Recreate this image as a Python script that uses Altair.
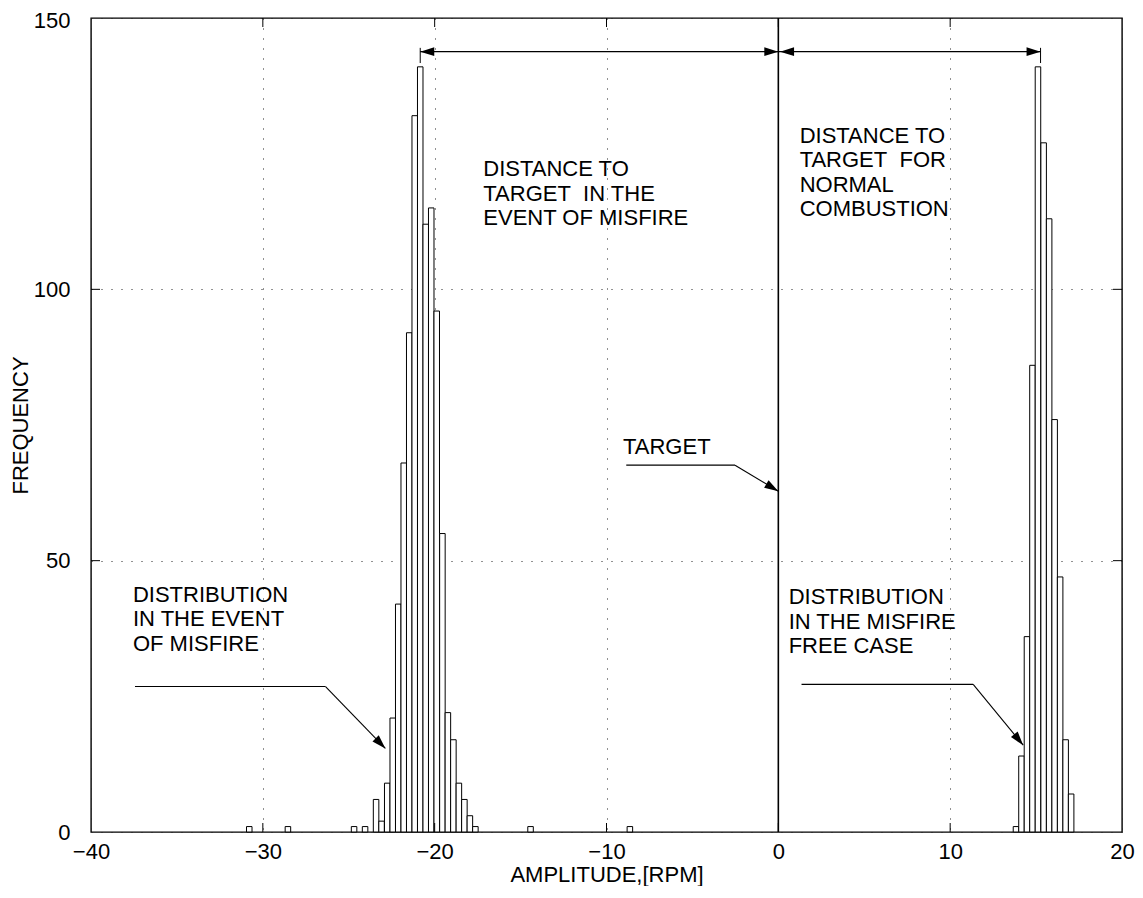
import math
import altair as alt
import pandas as pd

# ---------------- data ----------------
BIN_WIDTH = 0.321
bin_centers = [-30.79, -28.54, -24.69, -24.05, -23.41, -23.09, -22.76, -22.44,
               -22.12, -21.80, -21.48, -21.16, -20.84, -20.52, -20.20, -19.88,
               -19.55, -19.23, -18.91, -18.59, -18.27, -17.95, -17.63, -14.42,
               -8.64,
               13.83, 14.15, 14.47, 14.79, 15.11, 15.44, 15.76, 16.08, 16.40,
               16.72, 17.04]
counts = [1, 1, 1, 1, 6, 2, 9, 21,
          42, 68, 92, 132, 141, 112, 115, 96,
          55, 22, 17, 9, 6, 3, 1, 1,
          1,
          1, 14, 36, 86, 141, 127, 113, 76, 47,
          17, 7]

x_ticks = [-40, -30, -20, -10, 0, 10, 20]
y_ticks = [0, 50, 100, 150]
inner_x_ticks = [-30, -20, -10, 0, 10]
inner_y_ticks = [50, 100]

target_x = 0
arrow_y = 143.8
misfire_peak_x = -20.84
normal_peak_x = 15.26
peak_tick_lo, peak_tick_hi = 141.7, 144.5

label_text = ["DISTANCE TO", "TARGET\u00a0 IN THE", "EVENT OF MISFIRE",
              "DISTANCE TO", "TARGET\u00a0 FOR", "NORMAL", "COMBUSTION",
              "TARGET",
              "DISTRIBUTION", "IN THE EVENT", "OF MISFIRE",
              "DISTRIBUTION", "IN THE MISFIRE", "FREE CASE"]
label_x = [-17.17, -17.17, -17.17,
           1.24, 1.24, 1.24, 1.24,
           -9.04,
           -37.56, -37.56, -37.56,
           0.6, 0.6, 0.6]
label_y = [120.8, 116.2, 111.8,
           127.0, 122.5, 118.0, 113.5,
           69.6,
           42.4, 38.0, 33.4,
           42.0, 37.5, 32.9]

# leader lines: (x1, y1, x2, y2); last segment of each leader ends in an arrow
leader_x1 = [-8.85, -2.52, -37.44, -26.35, 1.35, 11.34]
leader_y1 = [67.6, 67.6, 26.8, 26.8, 27.2, 27.2]
leader_x2 = [-2.52, 0.0, -26.35, -22.87, 11.34, 14.25]
leader_y2 = [67.6, 62.8, 26.8, 15.4, 27.2, 16.0]

# ---------------- layout ----------------
W, H = 1031, 814
X_DOM = [-40, 20]
Y_DOM = [0, 150]
PX_X = W / (X_DOM[1] - X_DOM[0])
PX_Y = H / (Y_DOM[1] - Y_DOM[0])
FONT = "Liberation Sans"
FS = 22

xs = alt.Scale(domain=X_DOM, nice=False, zero=False)
ys = alt.Scale(domain=Y_DOM, nice=False, zero=False)

AX = alt.Axis(values=x_ticks, grid=True, gridDash=[1, 9],
              gridColor="#222", gridWidth=1, ticks=False, tickSize=0,
              domain=False, labelFont=FONT, labelFontSize=FS, labelFlush=False,
              labelColor="black", labelPadding=9, title="AMPLITUDE,[RPM]",
              titleFont=FONT, titleFontSize=FS, titleFontWeight="normal",
              titleColor="black", titleBaseline="middle", titleY=42)
AY = alt.Axis(values=y_ticks, grid=True, gridDash=[1, 9],
              gridColor="#222", gridWidth=1, ticks=False, tickSize=0,
              domain=False, labelFont=FONT, labelFontSize=FS, labelFlush=False,
              labelOffset={"condition": {"test": "datum.value === 150", "value": 2},
                           "value": 0},
              labelColor="black", labelPadding=21, title="FREQUENCY",
              titleFont=FONT, titleFontSize=FS, titleFontWeight="normal",
              titleColor="black", titleX=-71, titleY=H / 2,
              titleBaseline="middle", titleAlign="center")


def X(f):
    return alt.X(f, scale=xs, axis=AX, title="AMPLITUDE,[RPM]")


def Y(f):
    return alt.Y(f, scale=ys, axis=AY, title="FREQUENCY")


bars = pd.DataFrame({"c": bin_centers, "n": counts})
bars["x0"] = bars["c"] - BIN_WIDTH / 2
bars["x1"] = bars["c"] + BIN_WIDTH / 2
bars["z"] = 0

bar_layer = alt.Chart(bars).mark_bar(
    fill="white", stroke="black", strokeWidth=1
).encode(x=X("x0:Q"), x2="x1:Q", y=Y("n:Q"), y2="z:Q")

# inward tick marks on all four sides
xt = pd.DataFrame({"v": inner_x_ticks})
yt = pd.DataFrame({"v": inner_y_ticks})
tick_bottom = alt.Chart(xt).mark_rule(color="black", strokeWidth=1).encode(
    x=X("v:Q"), y=alt.value(H), y2=alt.value(H - 9))
tick_top = alt.Chart(xt).mark_rule(color="black", strokeWidth=1).encode(
    x=X("v:Q"), y=alt.value(0), y2=alt.value(9))
tick_left = alt.Chart(yt).mark_rule(color="black", strokeWidth=1).encode(
    y=Y("v:Q"), x=alt.value(0), x2=alt.value(9))
tick_right = alt.Chart(yt).mark_rule(color="black", strokeWidth=1).encode(
    y=Y("v:Q"), x=alt.value(W), x2=alt.value(W - 9))

# target line
tgt = pd.DataFrame({"x": [target_x], "y0": [Y_DOM[0]], "y1": [Y_DOM[1]]})
target_layer = alt.Chart(tgt).mark_rule(color="black", strokeWidth=1.6).encode(
    x=X("x:Q"), y=Y("y0:Q"), y2="y1:Q")

# peak ticks
pk = pd.DataFrame({"x": [misfire_peak_x, normal_peak_x],
                   "y0": [peak_tick_lo] * 2, "y1": [peak_tick_hi] * 2})
peak_layer = alt.Chart(pk).mark_rule(color="black", strokeWidth=1).encode(
    x=X("x:Q"), y=Y("y0:Q"), y2="y1:Q")

# segments (leaders + distance arrows)
seg = pd.DataFrame({
    "x1": leader_x1 + [misfire_peak_x, target_x],
    "y1": leader_y1 + [arrow_y, arrow_y],
    "x2": leader_x2 + [target_x, normal_peak_x],
    "y2": leader_y2 + [arrow_y, arrow_y],
})
seg_layer = alt.Chart(seg).mark_rule(color="black", strokeWidth=1.1).encode(
    x=X("x1:Q"), x2="x2:Q", y=Y("y1:Q"), y2="y2:Q")


def screen_angle(xa, ya, xb, yb):
    dx = (xb - xa) * PX_X
    dy = -(yb - ya) * PX_Y
    return math.degrees(math.atan2(dy, dx)) % 360


heads = []
for i in (1, 3, 5):
    heads.append((leader_x2[i], leader_y2[i],
                  screen_angle(leader_x1[i], leader_y1[i], leader_x2[i], leader_y2[i])))
heads.append((misfire_peak_x, arrow_y, 180.0))
heads.append((target_x, arrow_y, 0.0))
heads.append((target_x + 0.1, arrow_y, 180.0))
heads.append((normal_peak_x, arrow_y, 0.0))
hd = pd.DataFrame(heads, columns=["x", "y", "a"])
ARROW = "M0,0L-2,-0.62L-2,0.62Z"
head_layer = alt.Chart(hd).mark_point(
    shape=ARROW, filled=True, fill="black", strokeWidth=0, opacity=1, size=196
).encode(
    x=X("x:Q"), y=Y("y:Q"),
    angle=alt.Angle("a:Q", scale=None),
)

lab = pd.DataFrame({"x": label_x, "y": label_y, "t": label_text})
text_layer = alt.Chart(lab).mark_text(
    align="left", baseline="alphabetic", font=FONT, fontSize=FS, color="black"
).encode(x=X("x:Q"), y=Y("y:Q"), text="t:N")

chart = alt.layer(
    bar_layer, tick_bottom, tick_top, tick_left, tick_right,
    target_layer, peak_layer, seg_layer, head_layer, text_layer
).properties(
    width=W, height=H,
    autosize=alt.AutoSizeParams(type="none"),
    padding={"left": 83, "top": 10, "right": 13, "bottom": 54},
    background="white",
).configure_view(stroke="black", strokeWidth=1.4)

chart.save("out.html", embed_options={"renderer": "svg", "actions": False})
